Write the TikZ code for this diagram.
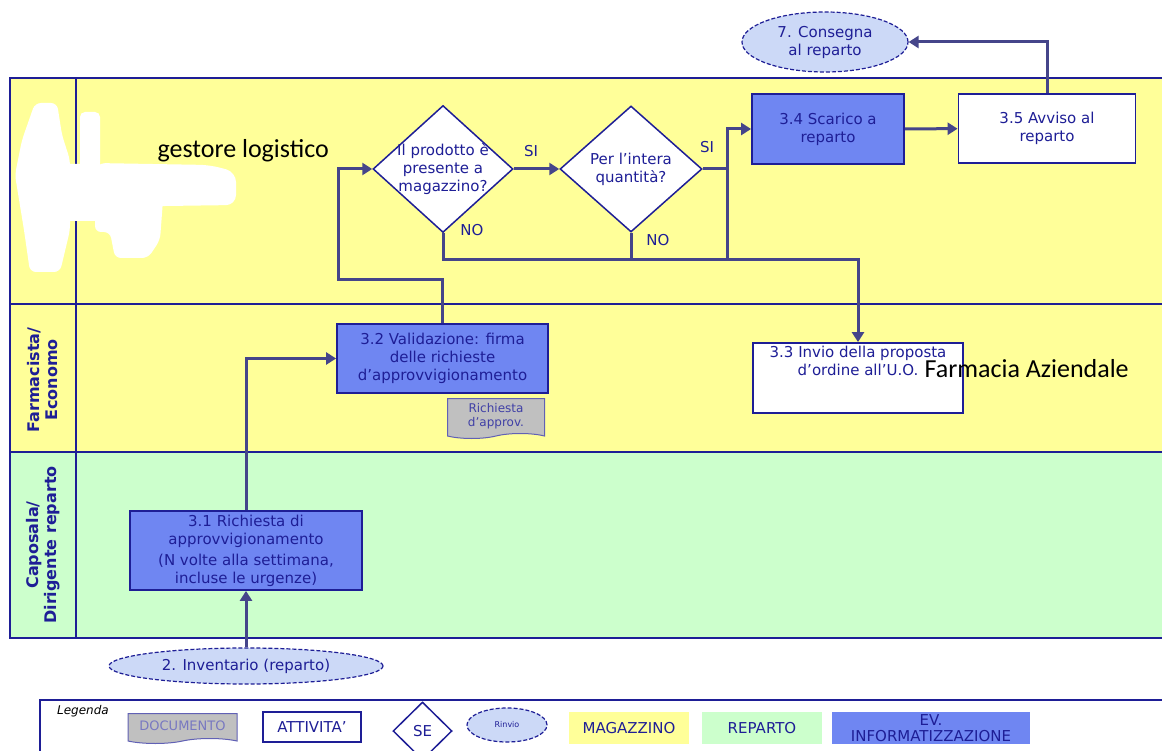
\documentclass[tikz,border=0pt]{standalone}
\usepackage{fontspec}
\setmainfont{DejaVu Sans}
\newfontfamily\calibfont{Carlito}
\usetikzlibrary{
  arrows.meta,
  positioning,
  shapes.geometric,
  shapes.symbols,
}
\definecolor{laneyellow}{HTML}{FFFF99}
\definecolor{lanegreen}{HTML}{CCFFCC}
\definecolor{evblue}{HTML}{6F86F2}
\definecolor{rinvioblue}{HTML}{CCD9F7}
\definecolor{docgrey}{HTML}{C0C0C0}
\definecolor{navy}{HTML}{1E1E96}
\definecolor{linecol}{HTML}{45458A}
\newcommand\boxfont{\fontsize{15}{18}\selectfont}
\newcommand\legfont{\fontsize{15}{15.5}\selectfont}
\tikzset{
  >={Triangle[width=12pt,length=10pt]},
}

\begin{document}
\begin{tikzpicture}[
        x=1pt, y=-1pt,
        every node/.style={align=center, text=navy, font=\boxfont},
        lane/.style={draw=navy, line width=1.5pt},
        activity/.style={draw=navy, line width=1.8pt, fill=white, inner sep=0},
        evactivity/.style={activity, fill=evblue},
        decision/.style={diamond, draw=navy, line width=1.5pt, fill=white, inner sep=0},
        rinvio/.style={ellipse, draw=navy, line width=1.2pt, dash pattern=on 4pt off 2pt,
          fill=rinvioblue, inner sep=0},
        document/.style={tape, tape bend top=none, draw=navy!70, line width=1pt,
          fill=docgrey, inner sep=0},
        conn/.style={draw=linecol, line width=3pt},
        answer/.style={font=\boxfont},
        legbox/.style={inner sep=0, font=\legfont},
        lanelabel/.style={rotate=90, font=\bfseries\fontsize{16}{18}\selectfont},
      ]
      \useasboundingbox (0,0) rectangle (1162,751);
      \fill[white] (0,0) rectangle (1162,751);

      % swimlanes
      \filldraw[lane, fill=laneyellow] (10,78) rectangle (1175,304);
      \filldraw[lane, fill=laneyellow] (10,304) rectangle (1175,452);
      \filldraw[lane, fill=lanegreen] (10,452) rectangle (1175,638);
      \draw[lane] (76,78) -- (76,638);
      \node (farm) [lanelabel] at (43,380) {Farmacista/\\Economo};
      \node (capo) [lanelabel] at (43,545) {Caposala/\\Dirigente reparto};

      % blanked logo
      \fill[white, rounded corners=6pt] (35,103) -- (57,103) -- (62,135) -- (70,160)
        -- (70,230) -- (60,272) -- (30,272) -- (24,230) -- (15,175) -- (22,140) -- cycle;
      \fill[white, rounded corners=4pt] (66,164) rectangle (100,221);
      \fill[white, rounded corners=5pt] (80,112) rectangle (100,218);
      \fill[white, rounded corners=10pt] (95,163) -- (210,165) -- (236,172) -- (236,205)
        -- (95,207) -- cycle;
      \fill[white, rounded corners=6pt] (95,200) -- (163,200) -- (160,240) -- (148,258)
        -- (115,258) -- (110,232) -- (95,232) -- cycle;

      \node (gest) [text=black, font=\calibfont\fontsize{26}{28}\selectfont, anchor=west]
        at (154,151) {gestore logistico};

      % activities
      \node (cons7) [rinvio, minimum width=166, minimum height=60] at (825,42)
        {7. Consegna\\al reparto};
      \node (d1) [decision, minimum width=140, minimum height=127,
        label={[name=d1txt]center:{Il prodotto è\\presente a\\magazzino?}}] at (443,169) {};
      \node (d2) [decision, minimum width=142, minimum height=126,
        label={[name=d2txt]center:{Per l’intera\\quantità?}}] at (631,169) {};
      \node (scar34) [evactivity, minimum width=152, minimum height=70] at (828,129)
        {3.4 Scarico a\\reparto};
      \node (avv35) [activity, minimum width=177, minimum height=69] at (1047,128.5)
        {3.5 Avviso al\\reparto};
      \node (val32) [evactivity, minimum width=211, minimum height=69] at (442.5,358.5)
        {3.2 Validazione: firma\\delle richieste\\d’approvvigionamento};
      \node (doc) [document, minimum width=97, minimum height=40,
        font=\fontsize{12}{14}\selectfont, text=navy!85] at (496,416)
        {Richiesta\\d’approv.};
      \node (invio) [activity, minimum width=210, minimum height=70] at (858,378) {};
      \node (inviotxt) [below=4pt of invio.north, inner sep=0]
        {3.3 Invio della proposta\\d’ordine all’U.O.};
      \node (farmaz) [text=black, font=\calibfont\fontsize{26}{28}\selectfont, anchor=west]
        at (921,369) {Farmacia Aziendale};
      \node (ric31) [evactivity, minimum width=232, minimum height=79] at (246,550.5)
        {3.1 Richiesta di\\approvvigionamento\\[3pt](N volte alla settimana,\\incluse le urgenze)};
      \node (inv2) [rinvio, minimum width=274, minimum height=36] at (246,666)
        {2. Inventario (reparto)};

      % connectors
      \coordinate (loop) at (338,280);
      \coordinate (si2) at (727,169);
      \coordinate (nobus) at (858,260);
      \draw[conn, ->] (inv2) -- (ric31);
      \draw[conn, ->] (ric31.north) |- (val32.west);
      \draw[conn, ->] (val32.north) |- (loop) |- (d1.west);
      \draw[conn, ->] (d1.east) -- (d2.west);
      \draw[conn, ->] (d2.east) -- (si2) |- (scar34.west);
      \draw[conn, ->] (d1.south) |- (nobus) -- (invio.north);
      \draw[conn] (d2.south) -- (d2.south |- nobus);
      \draw[conn] (si2) -- (si2 |- nobus);
      \draw[conn, ->] (scar34) -- (avv35);
      \draw[conn, ->] (avv35.north) |- (cons7.east);
      \node (si1lab) [answer] at (531,151) {SI};
      \node (si2lab) [answer] at (707,147) {SI};
      \node (no1lab) [answer] at (472,230) {NO};
      \node (no2lab) [answer] at (658,240) {NO};

      % legend
      \draw[lane] (40,760) -- (40,700) -- (1175,700);
      \node (legenda) [font=\itshape\fontsize{12}{13}\selectfont, text=black] at (83,711)
        {Legenda};
      \node (legdoc) [document, minimum width=109, minimum height=30,
        font=\fontsize{13}{14}\selectfont, text=navy!60] at (182.5,726) {DOCUMENTO};
      \node (legatt) [activity, line width=1.5pt, minimum width=98, minimum height=30,
        font=\legfont] at (312,727) {ATTIVITA’};
      \node (legse) [decision, minimum width=59, minimum height=58, font=\legfont]
        at (422.5,731) {SE};
      \node (legrinv) [rinvio, minimum width=80, minimum height=34,
        font=\fontsize{8}{10}\selectfont] at (507,725) {Rinvio};
      \node (legmag) [legbox, fill=laneyellow, minimum width=120, minimum height=32]
        at (629,728) {MAGAZZINO};
      \node (legrep) [legbox, fill=lanegreen, minimum width=120, minimum height=32]
        at (762,728) {REPARTO};
      \node (legev) [legbox, fill=evblue, minimum width=198, minimum height=32]
        at (931,728) {EV.\\INFORMATIZZAZIONE};
    \end{tikzpicture}
\end{document}
